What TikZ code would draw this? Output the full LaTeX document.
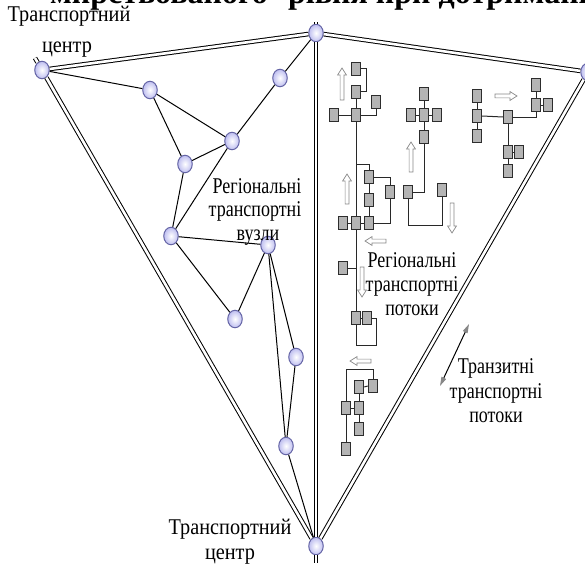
\documentclass[tikz,border=0pt]{standalone}
\usepackage{fontspec}
\setmainfont{Liberation Serif}
\newfontfamily\lbl[FakeStretch=0.8]{Liberation Serif}
\newfontfamily\lblw[FakeStretch=0.9]{Liberation Serif}
\usetikzlibrary{shapes.geometric,arrows.meta}
\definecolor{hubline}{RGB}{100,100,165}
\definecolor{hubfill}{RGB}{190,190,240}
\definecolor{boxgray}{RGB}{180,180,180}
\definecolor{boxline}{RGB}{45,45,45}
\definecolor{wiregray}{RGB}{40,40,40}
\definecolor{arrgray}{RGB}{135,135,135}
\newcommand{\harrow}[4]{%
  \draw[hollowarrow, shift={(#1,#2)}, rotate=#3] (0,-1.9) -- ({#4-7},-1.9) -- ({#4-7},-4.4) -- (#4,0) -- ({#4-7},4.4) -- ({#4-7},1.9) -- (0,1.9) -- cycle;}
\begin{document}
\begin{tikzpicture}[x=1pt,y=-1pt,
  hub/.style={ellipse, draw=hubline, line width=1pt, inner color=white, outer color=hubfill, minimum width=14.5pt, minimum height=17.5pt, inner sep=0pt},
  hwy/.style={draw=black, line width=1pt, double=white, double distance=2.6pt},
  link/.style={draw=black, line width=1pt},
  sq/.style={rectangle, draw=boxline, fill=boxgray, line width=0.9pt, minimum width=9.5pt, minimum height=13.5pt, inner sep=0pt},
  wire/.style={draw=wiregray, line width=1pt},
  hollowarrow/.style={draw=arrgray, fill=white, line width=0.7pt},
  lab/.style={font=\lbl\fontsize{22.5}{24}\selectfont, inner sep=0pt, anchor=base},
  labw/.style={font=\lblw\fontsize{22.5}{24}\selectfont, inner sep=0pt, anchor=base},
  head/.style={font=\bfseries\fontsize{32}{32}\selectfont, inner sep=0pt}
]
\useasboundingbox (0,0) rectangle (585,567);

% heading (cropped)
\node[head, anchor=base east] (hd1) at (268,4) {мирствованого};
\node[head, anchor=base west] (hd2) at (288,4) {рівня при дотриманні};

% transport centres
\node[hub] (tl) at (42,70) {};
\node[hub] (top) at (316,33) {};
\node[hub] (rt) at (588,72) {};
\node[hub] (bot) at (316,546) {};
\coordinate (tls) at (35,58);
\coordinate (tops) at (316,22);
\coordinate (bots) at (316,563);

% regional nodes
\node[hub] (n1) at (150,90) {};
\node[hub] (n2) at (280,78) {};
\node[hub] (n3) at (232,141) {};
\node[hub] (n4) at (185,164) {};
\node[hub] (n5) at (171,236) {};
\node[hub] (n6) at (268,245) {};
\node[hub] (n7) at (235,319) {};
\node[hub] (n8) at (296,357) {};
\node[hub] (n9) at (286,446) {};

% highways
\draw[hwy] (tl) -- (top);
\draw[hwy] (top) -- (rt);
\draw[hwy] (tl) -- (bot);
\draw[hwy] (top) -- (bot);
\draw[hwy] (rt) -- (bot);
\draw[hwy] (tl) -- (tls);
\draw[hwy] (top) -- (tops);
\draw[hwy] (bot) -- (bots);

% regional links
\draw[link] (tl) -- (n1);
\draw[link] (n1) -- (n3);
\draw[link] (n1) -- (n4);
\draw[link] (n4) -- (n3);
\draw[link] (n3) -- (n2);
\draw[link] (n2) -- (top);
\draw[link] (n4) -- (n5);
\draw[link] (n3) -- (n5);
\draw[link] (n5) -- (n6);
\draw[link] (n5) -- (n7);
\draw[link] (n7) -- (n6);
\draw[link] (n6) -- (n8);
\draw[link] (n6) -- (n9);
\draw[link] (n8) -- (n9);
\draw[link] (n9) -- (bot);

% group A
\node[sq] (a1) at (356,69) {};
\node[sq] (a2) at (356,92) {};
\node[sq] (a3) at (334,115) {};
\node[sq] (a4) at (356,115) {};
\node[sq] (a5) at (376,102) {};
\node[sq] (a6) at (369,177) {};
\node[sq] (a7) at (369,200) {};
\node[sq] (a8) at (369,223) {};
\node[sq] (a9) at (390,192) {};
\node[sq] (a10) at (343,223) {};
\node[sq] (a11) at (356,223) {};
\coordinate (j1) at (356,164);
\coordinate (j2) at (356,268);
\node[sq] (d1) at (343,268) {};
\node[sq] (d2) at (356,318) {};
\node[sq] (d3) at (367,318) {};
\coordinate (lc) at (376,345);

\draw[wire] (a1.east) -- ++(5,0) |- (a2.east);
\draw[wire] (a2.south) -- (a4.north);
\draw[wire] (a3.east) -- (a4.west);
\draw[wire] (a4.east) -| (a5.south);
\draw[wire] (a4.south) -- (a11.north);
\draw[wire] (j1) -| (a6.north);
\draw[wire] (a6.east) -| (a9.north);
\draw[wire] (a6.south) -- (a7.north);
\draw[wire] (a7.south) -- (a8.north);
\draw[wire] (a9.south) |- (a8.east);
\draw[wire] (a10.east) -- (a11.west);
\draw[wire] (a11.east) -- (a8.west);
\draw[wire] (a11.south) -- (d2.north);
\draw[wire] (d1.east) -- (j2);
\draw[wire] (d2.east) -- (d3.west);
\draw[wire] (d2.south) |- (lc) |- (d3.east);

% group B
\node[sq] (b1) at (424,94) {};
\node[sq] (b2) at (411,115) {};
\node[sq] (b3) at (424,115) {};
\node[sq] (b4) at (437,115) {};
\node[sq] (b5) at (424,137) {};
\node[sq] (b6) at (408,192) {};
\node[sq] (b7) at (442,190) {};
\coordinate (bc) at (442,225);
\draw[wire] (b1.south) -- (b3.north);
\draw[wire] (b2.east) -- (b3.west);
\draw[wire] (b3.east) -- (b4.west);
\draw[wire] (b3.south) -- (b5.north);
\draw[wire] (b5.south) |- (b6.east);
\draw[wire] (b6.south) |- (bc) -- (b7.south);

% group C
\node[sq] (e1) at (477,96) {};
\node[sq] (e2) at (477,116) {};
\node[sq] (e3) at (477,136) {};
\node[sq] (e4) at (508,117) {};
\node[sq] (e5) at (536,85) {};
\node[sq] (e6) at (536,105) {};
\node[sq] (e7) at (548,105) {};
\node[sq] (e8) at (508,152) {};
\node[sq] (e9) at (519,152) {};
\node[sq] (e10) at (508,171) {};
\draw[wire] (e1.south) -- (e2.north);
\draw[wire] (e2.south) -- (e3.north);
\draw[wire] (e2.east) -- (e4.west);
\draw[wire] (e4.east) -| (e6.south);
\draw[wire] (e5.south) -- (e6.north);
\draw[wire] (e6.east) -- (e7.west);
\draw[wire] (e4.south) -- (e8.north);
\draw[wire] (e8.east) -- (e9.west);
\draw[wire] (e8.south) -- (e10.north);

% group F
\node[sq] (f1) at (373,386) {};
\node[sq] (f2) at (359,387) {};
\node[sq] (f3) at (359,408) {};
\node[sq] (f4) at (346,408) {};
\node[sq] (f5) at (359,429) {};
\node[sq] (f6) at (346,449) {};
\coordinate (fk) at (373,369);
\draw[wire] (f4.north) |- (fk) -- (f1.north);
\draw[wire] (f2.east) -- (f1.west);
\draw[wire] (f2.south) -- (f3.north);
\draw[wire] (f4.east) -- (f3.west);
\draw[wire] (f3.south) -- (f5.north);
\draw[wire] (f4.south) -- (f6.north);

% hollow arrows
\harrow{342}{100}{90}{32}
\harrow{347}{204}{90}{30}
\harrow{411}{172}{90}{30}
\harrow{452}{203}{-90}{30}
\harrow{495}{96}{0}{22}
\harrow{386}{241}{180}{21}
\harrow{362}{267}{-90}{30}
\harrow{371}{361}{180}{21}

% transit double arrow
\coordinate (t1) at (440,386);
\coordinate (t2) at (469,324);
\draw[line width=1pt, {Triangle[fill=arrgray, color=arrgray, length=9pt, width=5pt]}-{Triangle[fill=arrgray, color=arrgray, length=9pt, width=5pt]}] (t1) -- (t2);

% labels
\node[labw] (l1) at (69,22) {Транспортний};
\node[labw] (l2) at (67,53) {центр};
\node[lab] (l3) at (257,193) {Регіональні};
\node[lab] (l4) at (255,216) {транспортні};
\node[lab] (l5) at (258,240) {вузли};
\node[lab] (l6) at (412,267) {Регіональні};
\node[lab] (l7) at (412,291) {транспортні};
\node[lab] (l8) at (412,315) {потоки};
\node[lab] (l9) at (496,373) {Транзитні};
\node[lab] (l10) at (496,398) {транспортні};
\node[lab] (l11) at (496,422) {потоки};
\node[labw] (l12) at (230,534) {Транспортний};
\node[labw] (l13) at (230,559) {центр};
\end{tikzpicture}
\end{document}
